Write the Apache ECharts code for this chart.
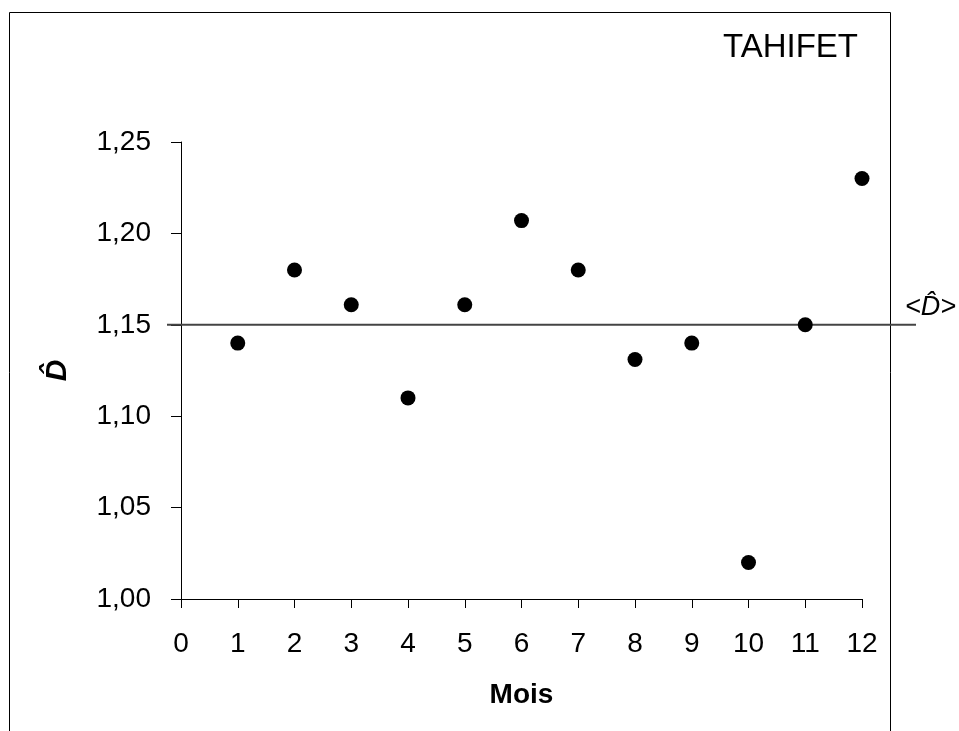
<!DOCTYPE html>
<html>
<head>
<meta charset="utf-8">
<script src="https://cdn.jsdelivr.net/npm/echarts@6/dist/echarts.min.js"></script>
<style>
  html, body { margin: 0; padding: 0; background: #fff; }
  #chart { width: 959px; height: 731px; }
</style>
</head>
<body>
<div id="chart"></div>
<script>
const months = [1, 2, 3, 4, 5, 6, 7, 8, 9, 10, 11, 12];
const dHat = [1.14, 1.18, 1.161, 1.11, 1.161, 1.207, 1.18, 1.131, 1.14, 1.02, 1.15, 1.23];
const meanD = 1.15;
const stationName = 'TAHIFET';

const font = "'Liberation Sans', Arial, sans-serif";
const chart = echarts.init(document.getElementById('chart'));

const options = {
  animation: false,
  backgroundColor: '#fff',
  textStyle: { fontFamily: font },
  grid: [
    { left: 181, right: 97, top: 142, bottom: 132 },
    // wider grid so the mean line runs past both axes
    { left: 167, right: 43, top: 142, bottom: 132 },
  ],
  xAxis: [
    {
      type: 'value',
      gridIndex: 0,
      min: 0,
      max: 12,
      interval: 1,
      name: 'Mois',
      nameLocation: 'middle',
      nameGap: 82,
      nameTextStyle: { fontSize: 28, fontWeight: 'bold', color: '#000', fontFamily: font },
      axisLine: { lineStyle: { color: '#000', width: 1 } },
      axisTick: { length: 9, lineStyle: { color: '#000' } },
      axisLabel: { fontSize: 28, color: '#000', margin: 31, fontFamily: font },
      splitLine: { show: false },
    },
    { type: 'value', gridIndex: 1, min: 0, max: 1, show: false },
  ],
  yAxis: [
    {
      type: 'value',
      gridIndex: 0,
      min: 1,
      max: 1.25,
      interval: 0.05,
      name: 'D\u0302',
      nameLocation: 'middle',
      nameRotate: 90,
      nameGap: 108,
      nameTextStyle: { fontSize: 30, fontWeight: 'bold', fontStyle: 'italic', color: '#000', fontFamily: font },
      axisLine: { show: true, lineStyle: { color: '#000', width: 1 } },
      axisTick: { show: true, length: 10, lineStyle: { color: '#000' } },
      axisLabel: {
        fontSize: 28,
        color: '#000',
        margin: 30,
        fontFamily: font,
        formatter: v => v.toFixed(2).replace('.', ','),
      },
      splitLine: { show: false },
    },
    { type: 'value', gridIndex: 1, min: 1, max: 1.25, show: false },
  ],
  graphic: [
    {
      type: 'rect',
      shape: { x: 9.5, y: 12.5, width: 881, height: 800 },
      style: { fill: 'none', stroke: '#000', lineWidth: 1 },
      silent: true,
    },
    {
      type: 'text',
      right: 101,
      top: 31,
      style: { text: stationName, fontSize: 33, fill: '#000', fontFamily: "'Liberation Sans Narrow', 'Arial Narrow', 'Liberation Sans', Arial, sans-serif" },
    },
  ],
  series: [
    {
      type: 'line',
      xAxisIndex: 1,
      yAxisIndex: 1,
      data: [[0, meanD], [1, meanD]],
      symbol: 'none',
      lineStyle: { color: '#444', width: 2 },
      z: 1,
      endLabel: {
        show: true,
        formatter: '<D\u0302>',
        fontSize: 27,
        fontStyle: 'italic',
        color: '#000',
        fontFamily: font,
        offset: [-19, -17],
      },
    },
    {
      type: 'scatter',
      data: months.map((m, i) => [m, dHat[i]]),
      symbol: 'circle',
      symbolSize: 15,
      itemStyle: { color: '#000', opacity: 1 },
      z: 3,
    },
  ],
};

chart.setOption(options);
</script>
</body>
</html>
